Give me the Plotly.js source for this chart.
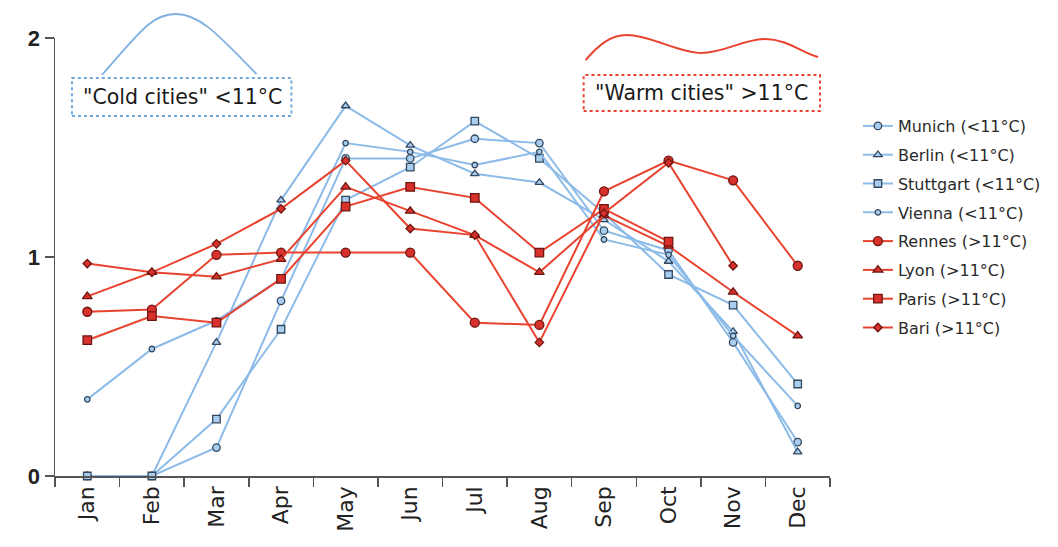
<!DOCTYPE html>
<html>
<head>
<meta charset="utf-8">
<script src="https://cdn.plot.ly/plotly-3.0.1.min.js"></script>
<style>
html,body{margin:0;padding:0;background:#fff;}
#chart{width:1058px;height:547px;}
</style>
</head>
<body>
<div id="chart"></div>
<script>
// ---- data ----
const months = ['Jan','Feb','Mar','Apr','May','Jun','Jul','Aug','Sep','Oct','Nov','Dec'];
const munich    = [0, 0, 0.13, 0.80, 1.45, 1.45, 1.54, 1.52, 1.12, 1.03, 0.61, 0.155];
const berlin    = [0, 0, 0.61, 1.26, 1.69, 1.51, 1.38, 1.34, 1.17, 0.98, 0.66, 0.11];
const stuttgart = [0, 0, 0.26, 0.67, 1.26, 1.41, 1.62, 1.45, 1.20, 0.92, 0.78, 0.42];
const vienna    = [0.35, 0.58, 0.71, 0.90, 1.52, 1.48, 1.42, 1.48, 1.08, 1.01, 0.64, 0.32];
const rennes    = [0.75, 0.76, 1.01, 1.02, 1.02, 1.02, 0.70, 0.69, 1.30, 1.44, 1.35, 0.96];
const lyon      = [0.82, 0.93, 0.91, 0.99, 1.32, 1.21, 1.10, 0.93, 1.19, 1.05, 0.84, 0.64];
const paris     = [0.62, 0.73, 0.70, 0.90, 1.23, 1.32, 1.27, 1.02, 1.22, 1.07, null, null];
const bari      = [0.97, 0.93, 1.06, 1.22, 1.44, 1.13, 1.10, 0.61, 1.20, 1.43, 0.96, null];

const seriesNames = ['Munich (<11°C)','Berlin (<11°C)','Stuttgart (<11°C)','Vienna (<11°C)',
                     'Rennes (>11°C)','Lyon (>11°C)','Paris (>11°C)','Bari (>11°C)'];
const yTicks = [0, 1, 2];

// ---- styles ----
const BLUE = '#8cbbe8', BLUE_FILL = '#a9cdee', BLUE_EDGE = '#33485e';
const RED = '#e8432f', RED_FILL = '#d8302a', RED_EDGE = '#6e1712';

function tr(name, y, color, fill, edge, symbol, size, grp){
  return {
    type:'scatter', mode:'lines+markers', x: months, y: y, name: name,
    legendgroup: grp, cliponaxis:false, connectgaps:false,
    line:{color:color, width:2},
    marker:{symbol:symbol, size:size, color:fill, line:{color:edge, width:1.3}}
  };
}

const data = [
  tr(seriesNames[0], munich,    BLUE, BLUE_FILL, BLUE_EDGE, 'circle', 7.5, 'g1'),
  tr(seriesNames[1], berlin,    BLUE, BLUE_FILL, BLUE_EDGE, 'triangle-up', 7.5, 'g2'),
  tr(seriesNames[2], stuttgart, BLUE, BLUE_FILL, BLUE_EDGE, 'square', 7.5, 'g3'),
  tr(seriesNames[3], vienna,    BLUE, BLUE_FILL, BLUE_EDGE, 'circle', 5.5, 'g4'),
  tr(seriesNames[4], rennes,    RED,  RED_FILL,  RED_EDGE,  'circle', 9, 'g5'),
  tr(seriesNames[5], lyon,      RED,  RED_FILL,  RED_EDGE,  'triangle-up', 8.5, 'g6'),
  tr(seriesNames[6], paris,     RED,  RED_FILL,  RED_EDGE,  'square', 8.5, 'g7'),
  tr(seriesNames[7], bari,      RED,  RED_FILL,  RED_EDGE,  'diamond', 6.5, 'g8')
];

// plot-area geometry (pixels) used to place the decorations in paper units
const L = 55, R = 832, T = 38, B = 476;
const px = v => (v - L) / (R - L);
const py = v => (B - v) / (B - T);
function path(pts){
  return pts.map(p => {
    const c = [];
    for (let i = 1; i < p.length; i += 2) c.push(px(p[i]).toFixed(4) + ',' + py(p[i+1]).toFixed(4));
    return p[0] + ' ' + c.join(' ');
  }).join(' ');
}

const shapes = [
  {type:'rect', xref:'paper', yref:'paper', x0:px(72), x1:px(292), y0:py(116), y1:py(78),
   line:{color:'#6fa8dc', width:2, dash:'dot'}, fillcolor:'rgba(0,0,0,0)'},
  {type:'rect', xref:'paper', yref:'paper', x0:px(585), x1:px(822), y0:py(111), y1:py(75),
   line:{color:'#e8432f', width:2, dash:'dot'}, fillcolor:'rgba(0,0,0,0)'},
  {type:'path', xref:'paper', yref:'paper',
   path: path([['M',102,75],['C',140,32,152,14,176,14],['C',200,14,218,34,257,74]]),
   line:{color:'#7fb0e0', width:1.8}},
  {type:'path', xref:'paper', yref:'paper',
   path: path([['M',587,60],['C',600,45,612,35,628,35],['C',652,35,680,53,703,53],
               ['C',726,53,745,39,767,39],['C',790,39,805,54,820,57]]),
   line:{color:'#e8432f', width:2}}
];

const annFont = {family:'DejaVu Sans, Verdana, sans-serif', size:20.5, color:'#1a1a1a'};
const annotations = [
  {xref:'paper', yref:'paper', x:px(183), y:py(97), xanchor:'center', yanchor:'middle',
   text:'"Cold cities" <11°C', showarrow:false, font:annFont},
  {xref:'paper', yref:'paper', x:px(703), y:py(93), xanchor:'center', yanchor:'middle',
   text:'"Warm cities" >11°C', showarrow:false, font:annFont}
];

const layout = {
  width:1058, height:547,
  margin:{l:L, r:1058-R, t:T, b:547-B},
  paper_bgcolor:'#fff', plot_bgcolor:'#fff',
  showlegend:true,
  legend:{x:px(860), y:py(109), xanchor:'left', yanchor:'top',
          font:{family:'DejaVu Sans, Verdana, sans-serif', size:16, color:'#2a2a2a'},
          tracegroupgap:5, traceorder:'grouped', bgcolor:'rgba(0,0,0,0)'},
  xaxis:{type:'category', range:[-0.5, 11.5], showgrid:false, zeroline:false,
         showline:true, linecolor:'#555', linewidth:1.5,
         ticks:'outside', ticklen:9, tickcolor:'#555', tickwidth:1.5, tickson:'boundaries',
         tickangle:-90, tickfont:{family:'DejaVu Sans, Verdana, sans-serif', size:22, color:'#222'}},
  yaxis:{range:[0, 2], tickvals:yTicks, ticktext:yTicks.map(String), showgrid:false, zeroline:false,
         showline:true, linecolor:'#555', linewidth:1.5,
         ticks:'outside', ticklen:9, tickcolor:'#555', tickwidth:1.5,
         tickfont:{family:'Liberation Sans, Arial, sans-serif', size:22, color:'#222', weight:'bold'}},
  shapes:shapes, annotations:annotations
};

Plotly.newPlot('chart', data, layout, {displayModeBar:false, staticPlot:true});
</script>
</body>
</html>
